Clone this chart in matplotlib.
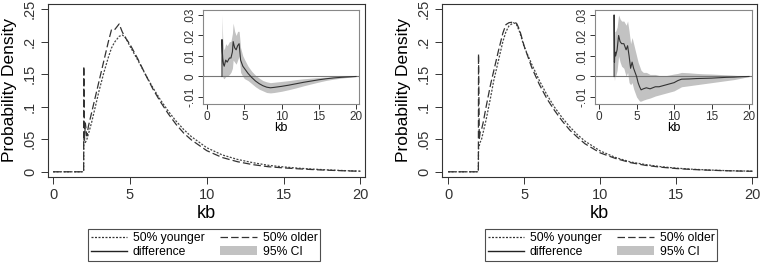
import numpy as np
import matplotlib
matplotlib.use("Agg")
import matplotlib.pyplot as plt
from matplotlib.lines import Line2D
from matplotlib.patches import Patch

plt.rcParams['font.family'] = ['Liberation Sans', 'DejaVu Sans']

# density curves (main panels)
kb_main = [0, 1.99, 2.0, 2.05, 2.1, 2.2, 2.3, 2.5, 2.8, 3.0, 3.3, 3.6, 3.8, 4.0, 4.3, 4.5, 4.7,
           5.0, 5.5, 6.0, 6.5, 7.0, 7.5, 8.0, 8.5, 9.0, 10, 11, 12, 13, 14, 15, 16, 17, 18, 19, 20]

left_younger = [0, 0, 0.05, 0.047, 0.045, 0.05, 0.058, 0.075, 0.105, 0.125, 0.152, 0.176, 0.19,
                0.199, 0.208, 0.21, 0.207, 0.193, 0.172, 0.150, 0.129, 0.110, 0.093, 0.078, 0.065,
                0.054, 0.037, 0.026, 0.019, 0.014, 0.010, 0.0075, 0.0055, 0.004, 0.0028, 0.0018, 0.001]
left_older = [0, 0, 0.162, 0.05, 0.075, 0.055, 0.07, 0.09, 0.12, 0.14, 0.17, 0.2, 0.218, 0.218,
              0.227, 0.215, 0.206, 0.196, 0.174, 0.150, 0.127, 0.107, 0.089, 0.073, 0.0595, 0.049,
              0.0325, 0.022, 0.0155, 0.011, 0.0078, 0.006, 0.0045, 0.0033, 0.0023, 0.0015, 0.0008]

right_younger = [0, 0, 0.035, 0.04, 0.045, 0.05, 0.06, 0.08, 0.115, 0.14, 0.17, 0.2, 0.215, 0.224,
                 0.229, 0.226, 0.215, 0.192, 0.165, 0.140, 0.118, 0.099, 0.083, 0.069, 0.057, 0.047,
                 0.032, 0.022, 0.015, 0.011, 0.0078, 0.0056, 0.004, 0.0029, 0.002, 0.0014, 0.001]
right_older = [0, 0, 0.181, 0.05, 0.06, 0.065, 0.075, 0.1, 0.135, 0.155, 0.185, 0.213, 0.226, 0.229,
               0.23, 0.228, 0.218, 0.193, 0.16, 0.134, 0.112, 0.094, 0.078, 0.064, 0.053, 0.043,
               0.029, 0.0205, 0.014, 0.0098, 0.007, 0.005, 0.0036, 0.0026, 0.0018, 0.0012, 0.0008]

# differences with 95% CI (insets)
kb_diff_left = [2.0, 2.0, 2.05, 2.1, 2.2, 2.3, 2.5, 2.7, 3.0, 3.2, 3.4, 3.5, 3.7, 3.9, 4.1, 4.3, 4.5,
                4.8, 5.0, 5.5, 6.0, 6.5, 7.0, 7.5, 8.0, 8.5, 9.0, 10, 11, 12, 13, 14, 15, 16, 17, 18, 19, 20]
diff_left = [0, 0.018, 0.012, 0.009, 0.006, 0.005, 0.008, 0.007, 0.009, 0.009, 0.012, 0.017, 0.014,
             0.013, 0.015, 0.016, 0.008, 0.005, 0.004, 0.0015, -0.0005, -0.0022, -0.0035, -0.0045,
             -0.0052, -0.0055, -0.0053, -0.0048, -0.0042, -0.0035, -0.0028, -0.0022, -0.0016,
             -0.0011, -0.0007, -0.0004, -0.0002, 0]
lo_left = [0, 0, 0, 0, -0.001, -0.001, 0, 0, 0.001, 0.002, 0.004, 0.008, 0.007, 0.006, 0.008, 0.01,
           0.002, 0, -0.001, -0.002, -0.0035, -0.005, -0.0062, -0.007, -0.0078, -0.008, -0.0078,
           -0.0072, -0.0064, -0.0055, -0.0045, -0.0036, -0.0027, -0.0019, -0.0013, -0.0008, -0.0004, 0]
hi_left = [0, 0.03, 0.024, 0.018, 0.014, 0.013, 0.016, 0.015, 0.017, 0.017, 0.021, 0.026, 0.022,
           0.02, 0.022, 0.022, 0.014, 0.01, 0.0085, 0.005, 0.0025, 0.0006, -0.0008, -0.002, -0.0026,
           -0.003, -0.0028, -0.0024, -0.002, -0.0015, -0.0011, -0.0008, -0.0005, -0.0003, -0.0001, 0, 0, 0]

kb_diff_right = [2.0, 2.0, 2.05, 2.1, 2.2, 2.4, 2.6, 2.8, 3.0, 3.3, 3.6, 3.8, 4.0, 4.2, 4.4, 4.6, 4.8,
                 5.0, 5.2, 5.4, 5.6, 5.9, 6.3, 6.8, 7.5, 8.0, 9.0, 10, 10.5, 11, 12, 13, 14, 15, 16,
                 17, 18, 19, 20]
diff_right = [0, 0.03, 0.007, 0.012, 0.01, 0.013, 0.02, 0.017, 0.016, 0.016, 0.013, 0.015, 0.01,
              0.004, 0.007, 0.004, 0.002, 0.0, -0.003, -0.005, -0.0065, -0.006, -0.0055, -0.006,
              -0.005, -0.005, -0.004, -0.003, -0.002, -0.0013, -0.0012, -0.001, -0.0009, -0.0008,
              -0.0006, -0.0004, -0.0003, -0.0001, 0]
lo_right = [0, 0, -0.002, 0, 0, 0.003, 0.01, 0.007, 0.005, 0.004, 0, 0.002, -0.003, -0.004, -0.003,
            -0.006, -0.008, -0.01, -0.011, -0.012, -0.012, -0.0115, -0.011, -0.0105, -0.0095, -0.009,
            -0.008, -0.007, -0.006, -0.005, -0.0045, -0.004, -0.0035, -0.003, -0.0025, -0.002,
            -0.0015, -0.0008, 0]
hi_right = [0, 0.03, 0.018, 0.022, 0.022, 0.024, 0.03, 0.028, 0.027, 0.027, 0.025, 0.027, 0.022,
            0.016, 0.019, 0.016, 0.013, 0.01, 0.007, 0.005, 0.003, 0.002, 0.002, 0.001, 0.001,
            0.0005, 0.0005, 0.0012, 0.0015, 0.002, 0.0018, 0.0015, 0.0013, 0.0012, 0.001, 0.0008,
            0.0006, 0.0003, 0]

main_yticks = [0, 0.05, 0.1, 0.15, 0.2, 0.25]
main_ylabels = ['0', '.05', '.1', '.15', '.2', '.25']
inset_yticks = [-0.01, 0, 0.01, 0.02, 0.03]
inset_ylabels = ['-.01', '0', '.01', '.02', '.03']
xticks = [0, 5, 10, 15, 20]

W, H = 761, 267
fig = plt.figure(figsize=(W / 100, H / 100), dpi=100)


def px(x0, y0, x1, y1):
    return [x0 / W, 1 - y1 / H, (x1 - x0) / W, (y1 - y0) / H]


def style_axes(ax, edge, tick_fs, tick_len, pad):
    for s in ax.spines.values():
        s.set_color(edge)
        s.set_linewidth(0.8)
    ax.tick_params(direction='out', length=tick_len, width=0.7, colors='#333333',
                   labelsize=tick_fs, pad=pad)
    ax.tick_params(axis='y', labelrotation=90)
    for lab in ax.get_yticklabels():
        lab.set_va('center')


panels = [
    (px(48, 4, 365, 177), px(203, 10, 359, 104), (-0.33, 20.3),
     left_younger, left_older, kb_diff_left, diff_left, lo_left, hi_left, 204),
    (px(442, 4, 757, 177), px(595, 10, 752, 104), (-0.4, 20.3),
     right_younger, right_older, kb_diff_right, diff_right, lo_right, hi_right, 601),
]

for (rect, irect, xl, young, old, kbd, d, lo, hi, legx) in panels:
    ax = fig.add_axes(rect)
    ax.plot(kb_main, young, color='#444444', lw=0.9, dashes=(1.6, 1.2))
    ax.plot(kb_main, old, color='#333333', lw=0.9, dashes=(6, 2.5))
    ax.set_xlim(*xl)
    ax.set_ylim(-0.008, 0.2577)
    ax.set_xticks(xticks)
    ax.set_yticks(main_yticks)
    ax.set_yticklabels(main_ylabels)
    style_axes(ax, '#333333', 10.5, 5, 3)
    ax.set_xlabel('kb', fontsize=13, labelpad=2)
    ax.set_ylabel('Probability Density', fontsize=12.5, labelpad=4)

    ins = fig.add_axes(irect)
    ins.fill_between(kbd, lo, hi, color='#c2c2c2', lw=0)
    ins.axhline(0, color='#777777', lw=0.8)
    ins.plot(kbd, d, color='#333333', lw=0.8)
    ins.set_xlim(-0.55, 20.4)
    ins.set_ylim(-0.0134, 0.0324)
    ins.set_xticks(xticks)
    ins.set_yticks(inset_yticks)
    ins.set_yticklabels(inset_ylabels)
    style_axes(ins, '#888888', 8.5, 3.5, 1.5)
    ins.set_xlabel('kb', fontsize=9, labelpad=-1)

    handles = [Line2D([], [], color='#333333', lw=0.9, dashes=(1.6, 1.2)),
               Line2D([], [], color='#222222', lw=1.0),
               Line2D([], [], color='#333333', lw=0.9, dashes=(6, 2.5)),
               Patch(facecolor='#c2c2c2', edgecolor='none')]
    labels = ['50% younger', 'difference', '50% older', '95% CI']
    leg = fig.legend(handles, labels, loc='upper center', bbox_to_anchor=(legx / W, 1 - 229 / H),
                     ncol=2, fontsize=8.7, frameon=True, fancybox=False, borderpad=0.25,
                     borderaxespad=0, labelspacing=0.15, handlelength=3.0, handletextpad=0.5,
                     columnspacing=1.3)
    leg.get_frame().set_edgecolor('#222222')
    leg.get_frame().set_linewidth(0.8)

fig.savefig('out.png', dpi=100)
